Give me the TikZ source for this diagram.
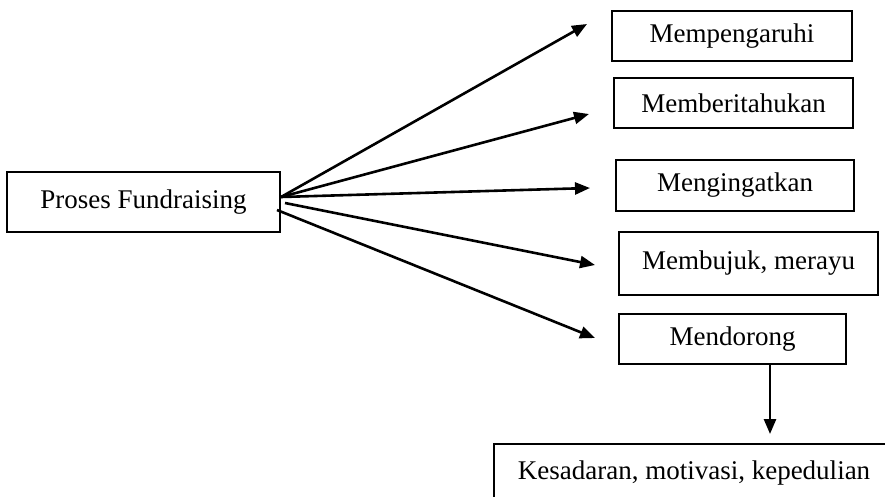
\documentclass[tikz,border=0pt]{standalone}
\usepackage{fontspec}
\setmainfont{Liberation Serif}
\usetikzlibrary{arrows.meta,calc}
\begin{document}
\begin{tikzpicture}[x=1pt,y=-1pt,
  box/.style={draw,line width=2.2pt,inner sep=0pt,font=\fontsize{27}{32}\selectfont},
  arr/.style={line width=2.6pt,-{Triangle[length=15pt,width=12pt]}}]
\useasboundingbox (0,0) rectangle (885,496);
\clip (0,0) rectangle (885,496);
\node[box,minimum width=273pt,minimum height=60pt] (p) at (143.5,202) {Proses Fundraising};
\node[box,minimum width=240pt,minimum height=50pt] (m1) at (732,36) {Mempengaruhi};
\node[box,minimum width=239pt,minimum height=50pt] (m2) at (733.5,103) {Memberitahukan};
\node[box,minimum width=238pt,minimum height=51pt] (m3) at (735,185.5) {Mengingatkan};
\node[box,minimum width=259pt,minimum height=63pt] (m4) at (748.5,263.5) {Membujuk, merayu};
\node[box,minimum width=227pt,minimum height=50pt] (m5) at (732.5,339) {Mendorong};
\node[box,minimum width=400pt,minimum height=58pt] (k) at (694,473) {Kesadaran, motivasi, kepedulian};
\coordinate (s1) at (281,197);
\coordinate (s4) at (285,203);
\coordinate (s5) at (277,210);
\coordinate (t1) at (587,24);
\coordinate (t2) at (589,114);
\coordinate (t3) at (590,188);
\coordinate (t4) at (595,265);
\coordinate (t5) at (595,338);
\draw[arr] (s1) -- (t1);
\draw[arr] (s1) -- (t2);
\draw[arr] (s1) -- (t3);
\draw[arr] (s4) -- (t4);
\draw[arr] (s5) -- (t5);
\draw[arr] (m5.south -| 770,0) -- (770,434);
\end{tikzpicture}
\end{document}
